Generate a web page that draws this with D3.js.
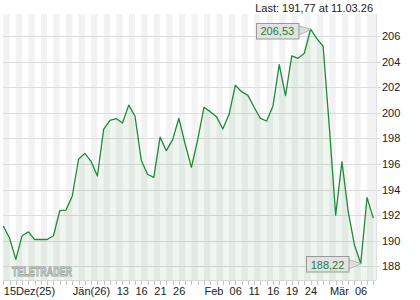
<!DOCTYPE html>
<html>
<head>
<meta charset="utf-8">
<script src="https://cdn.jsdelivr.net/npm/d3@7"></script>
<style>
  body { margin: 0; background: #fff; }
  svg text { font-family: "Liberation Sans", Arial, sans-serif; }
</style>
</head>
<body>
<div id="chart"></div>
<script>
// closing prices, one per trading day (15.12.25 .. 11.03.26)
var prices = [191.16, 190.2, 188.55, 190.4, 190.7, 190.1, 190.1, 190.1, 190.4, 192.35,
  192.4, 193.5, 196.37, 196.83, 196.2, 195.06, 198.7, 199.4, 199.55, 199.2,
  200.6, 199.75, 196.3, 195.2, 194.96, 198.1, 197.04, 197.9, 199.57, 197.56,
  195.74, 197.9, 200.43, 200.09, 199.7, 198.73, 199.88, 202.15, 201.65, 201.36,
  200.43, 199.57, 199.36, 200.53, 203.76, 201.34, 204.44, 204.26, 204.65, 206.53,
  205.8, 205.2, 198.8, 192.0, 196.18, 192.27, 189.67, 188.22, 193.37, 191.77];

// x axis labels and the trading day index they belong to
var tickIndex = [0, 11, 18, 21, 24, 27, 32, 36, 39, 42, 45, 48, 52, 56];
var tickLabels = ["15Dez(25)", "Jän(26)", "13", "16", "21", "26", "Feb", "06", "11", "16", "19", "24", "Mär", "06"];

var yTicks = [188, 190, 192, 194, 196, 198, 200, 202, 204, 206];

var lastLabel = "Last: 191,77 at 11.03.26";

var width = 420, height = 300;
var plot = {left: 3, right: 376, top: 14, bottom: 280};

var svg = d3.select("#chart")
  .append("svg")
    .attr("width", width)
    .attr("height", height);

var x = d3.scaleLinear()
  .domain([0, prices.length - 1])
  .range([3.3, 373.3]);

var y = d3.scaleLinear()
  .domain([188, 206])
  .range([266.4, 36]);

// alternating day stripes
var stripes = d3.range(0, prices.length - 1, 2);
svg.append("g")
  .selectAll("rect")
  .data(stripes)
  .enter().append("rect")
    .attr("x", function(i) { return x(i); })
    .attr("y", plot.top)
    .attr("width", function(i) { return (i + 2 >= prices.length ? plot.right : x(i + 1)) - x(i); })
    .attr("height", plot.bottom - plot.top)
    .attr("fill", "#f2f2f2");

// horizontal grid + right labels
svg.append("g")
  .selectAll("line")
  .data(yTicks)
  .enter().append("line")
    .attr("x1", plot.left)
    .attr("x2", 381)
    .attr("y1", function(d) { return Math.round(y(d)) + 0.5; })
    .attr("y2", function(d) { return Math.round(y(d)) + 0.5; })
    .attr("stroke", "#dcdcdc")
    .attr("stroke-width", 1);

svg.append("g")
  .selectAll("text")
  .data(yTicks)
  .enter().append("text")
    .attr("x", 382)
    .attr("y", function(d) { return y(d) + 4; })
    .attr("font-size", 11)
    .attr("fill", "#222")
    .text(function(d) { return d; });

// watermark
svg.append("text")
  .attr("x", 12)
  .attr("y", 276)
  .attr("font-size", 13)
  .attr("font-weight", "bold")
  .attr("textLength", 60)
  .attr("lengthAdjust", "spacingAndGlyphs")
  .attr("fill", "#f8f8f8")
  .attr("stroke", "#a9a9a9")
  .attr("stroke-width", 1)
  .text("TELETRADER");

// area + line
svg.append("path")
  .datum(prices)
  .attr("fill", "#2e8b3e")
  .attr("fill-opacity", 0.08)
  .attr("d", d3.area()
    .x(function(d, i) { return x(i); })
    .y0(plot.bottom)
    .y1(function(d) { return y(d); }));

svg.append("path")
  .datum(prices)
  .attr("fill", "none")
  .attr("stroke", "#1e8a3c")
  .attr("stroke-width", 1.3)
  .attr("stroke-linejoin", "round")
  .attr("d", d3.line()
    .x(function(d, i) { return x(i); })
    .y(function(d) { return y(d); }));

// plot frame (bottom + right)
svg.append("line")
  .attr("x1", plot.left).attr("x2", plot.right)
  .attr("y1", plot.bottom + 0.5).attr("y2", plot.bottom + 0.5)
  .attr("stroke", "#d8d8d8");
svg.append("line")
  .attr("x1", plot.right + 0.5).attr("x2", plot.right + 0.5)
  .attr("y1", plot.top).attr("y2", plot.bottom)
  .attr("stroke", "#e2e2e2");

// day ticks
svg.append("g")
  .selectAll("line")
  .data(d3.range(prices.length))
  .enter().append("line")
    .attr("x1", function(i) { return Math.round(x(i)) + 0.5; })
    .attr("x2", function(i) { return Math.round(x(i)) + 0.5; })
    .attr("y1", plot.bottom + 1)
    .attr("y2", plot.bottom + 5)
    .attr("stroke", "#c4c4c4");

svg.append("g")
  .selectAll("text")
  .data(tickIndex)
  .enter().append("text")
    .attr("x", function(i) { return x(i) + 0.5; })
    .attr("y", 295)
    .attr("font-size", 11)
    .attr("fill", "#222")
    .text(function(i, k) { return tickLabels[k]; });

// last value line at top
svg.append("text")
  .attr("x", 373)
  .attr("y", 12)
  .attr("text-anchor", "end")
  .attr("font-size", 11)
  .attr("fill", "#222")
  .text(lastLabel);

// max / min callouts
function callout(i, dy) {
  var px = x(i), py = y(prices[i]);
  var bw = 42.5, bh = 15.5;
  var bx = px - 12.5 - bw, cy = py + dy;
  var g = svg.append("g");
  g.append("path")
    .attr("d", "M" + (bx + bw - 0.5) + "," + (cy - 5) + "L" + px + "," + py + "L" + (bx + bw - 0.5) + "," + (cy + 5.5) + "Z")
    .attr("fill", "#dedede")
    .attr("stroke", "#a8a8a8")
    .attr("stroke-width", 0.8);
  g.append("rect")
    .attr("x", Math.round(bx) + 0.5)
    .attr("y", Math.round(cy - bh / 2) + 0.5)
    .attr("width", bw)
    .attr("height", bh)
    .attr("fill", "#e2e2e2")
    .attr("stroke", "#999");
  g.append("text")
    .attr("x", bx + bw / 2 + 0.5)
    .attr("y", cy + 4.5)
    .attr("text-anchor", "middle")
    .attr("font-size", 11)
    .attr("fill", "#1f7f3a")
    .text(d3.format(".2f")(prices[i]).replace(".", ","));
}

var iMax = d3.maxIndex(prices), iMin = d3.minIndex(prices);
callout(iMax, 1.3);
callout(iMin, 0.6);
</script>
</body>
</html>
